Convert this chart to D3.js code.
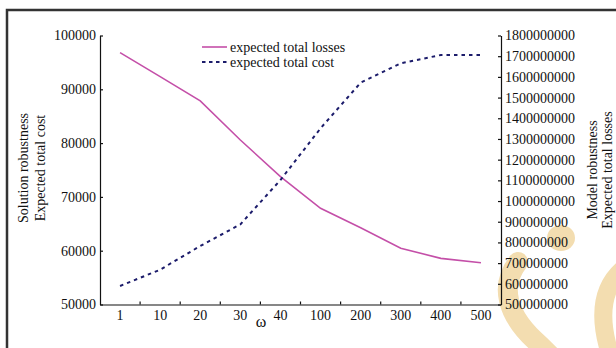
<!DOCTYPE html>
<style>
body { margin: 0; background: #fff; }
text { font-family: "Liberation Serif", "Times New Roman", serif; fill: #111; }
.axis path, .axis line { stroke: #111; stroke-width: 1.2px; }
.axis text { font-size: 14px; font-family: "Liberation Serif", serif; fill: #111; }
</style>
<svg width="616" height="348"></svg>
<script src="https://cdnjs.cloudflare.com/ajax/libs/d3/7.8.5/d3.min.js"></script>
<script>
var omega = ["1", "10", "20", "30", "40", "100", "200", "300", "400", "500"];
// expected total losses (right axis)
var losses = [1717e6, 1601e6, 1484e6, 1295e6, 1118e6, 965e6, 871e6, 772e6, 723e6, 702e6];
// expected total cost (left axis)
var cost = [53440, 56470, 60870, 64900, 73140, 82750, 91230, 94830, 96380, 96380];
var leftTicks = [50000, 60000, 70000, 80000, 90000, 100000];
var rightTicks = d3.range(5e8, 1.8e9 + 1, 1e8);

var svg = d3.select("svg");

// watermark
var wm = svg.append("g").attr("fill", "none").attr("stroke", "#f3ddb0").attr("stroke-linecap", "round");
wm.append("path").attr("stroke-width", 20)
    .attr("d", "M518,262 C500,285 505,315 540,345 L560,365");
wm.append("ellipse").attr("cx", 561).attr("cy", 238).attr("rx", 14).attr("ry", 13)
    .attr("fill", "#f3ddb0").attr("stroke", "none");
wm.append("path").attr("stroke-width", 18)
    .attr("d", "M622,270 C600,290 598,320 612,360");

// frame
svg.append("rect").attr("x", 7).attr("y", 10).attr("width", 640).attr("height", 360)
    .attr("fill", "none").attr("stroke", "#333").attr("stroke-width", 2.5);

var x = d3.scaleBand().domain(omega).range([100, 501]);
var yL = d3.scaleLinear().domain([50000, 100000]).range([304.5, 35.5]);
var yR = d3.scaleLinear().domain([5e8, 1.8e9]).range([304.5, 35.5]);

svg.append("g").attr("class", "axis").attr("transform", "translate(100,0)")
    .call(d3.axisLeft(yL).tickValues(leftTicks).tickSizeInner(-3).tickSizeOuter(0).tickPadding(4).tickFormat(d3.format("d")));
svg.append("g").attr("class", "axis").attr("transform", "translate(501,0)")
    .call(d3.axisRight(yR).tickValues(rightTicks).tickSizeInner(-3).tickSizeOuter(0).tickPadding(4).tickFormat(d3.format("d")));
var xa = svg.append("g").attr("class", "axis").attr("transform", "translate(0,304.5)")
    .call(d3.axisBottom(x).tickSize(0).tickPadding(6));
xa.selectAll(".bound").data(omega.slice(1)).enter().append("line")
    .attr("x1", d => x(d)).attr("x2", d => x(d)).attr("y1", 0).attr("y2", -3);

svg.append("text").attr("x", 261).attr("y", 327).attr("text-anchor", "middle")
    .style("font-size", "16px").text("ω");

function vtitle(cx, cy, s) {
  svg.append("text").attr("transform", "translate(" + cx + "," + cy + ") rotate(-90)")
      .attr("text-anchor", "middle").attr("dy", "0.35em").style("font-size", "14px").text(s);
}
vtitle(23, 168, "Solution robustness");
vtitle(40, 168, "Expected total cost");
vtitle(592, 170, "Model robustness");
vtitle(607, 170, "Expected total losses");

var cx = d => x(d) + x.bandwidth() / 2;
svg.append("path").datum(losses)
    .attr("fill", "none").attr("stroke", "#c44fa8").attr("stroke-width", 1.6)
    .attr("d", d3.line().x((d, i) => cx(omega[i])).y(d => yR(d)));
svg.append("path").datum(cost)
    .attr("fill", "none").attr("stroke", "#1c1c6b").attr("stroke-width", 2).attr("stroke-dasharray", "3.5,4")
    .attr("d", d3.line().x((d, i) => cx(omega[i])).y(d => yL(d)));

// legend
var lg = svg.append("g");
lg.append("line").attr("x1", 202).attr("x2", 227).attr("y1", 47).attr("y2", 47)
    .attr("stroke", "#c44fa8").attr("stroke-width", 1.6);
lg.append("line").attr("x1", 202).attr("x2", 227).attr("y1", 62).attr("y2", 62)
    .attr("stroke", "#1c1c6b").attr("stroke-width", 2).attr("stroke-dasharray", "3.5,3.5");
lg.append("text").attr("x", 230).attr("y", 47).attr("dy", "0.35em").style("font-size", "14px").text("expected total losses");
lg.append("text").attr("x", 230).attr("y", 62).attr("dy", "0.35em").style("font-size", "14px").text("expected total cost");
</script>
